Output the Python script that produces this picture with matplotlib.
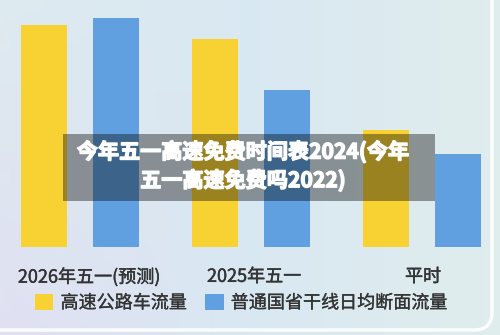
import numpy as np
import matplotlib.pyplot as plt
import matplotlib.patheffects as pe
from matplotlib.patches import Patch, Rectangle, FancyBboxPatch

plt.rcParams['font.family'] = ['Noto Sans CJK SC', 'DejaVu Sans']

categories = ['2026年五一(预测)', '2025年五一', '平时']
highway = [222, 208, 117]
national_road = [229, 157, 93]
series_names = ['高速公路车流量', '普通国省干线日均断面流量']
title = '今年五一高速免费时间表2024(今年\n五一高速免费吗2022)'

YELLOW = '#f8d233'
BLUE = '#61a0e0'

W, H = 500, 335
fig = plt.figure(figsize=(W / 100, H / 100), dpi=100)

# soft gradient background
bg = fig.add_axes([0, 0, 1, 1])
bg.set_xlim(0, W)
bg.set_ylim(0, H)
bg.axis('off')
c_tl = np.array([0.87, 0.92, 0.94])
c_tc = np.array([0.85, 0.91, 0.95])
c_bl = np.array([0.88, 0.88, 0.95])
c_r = np.array([0.88, 0.93, 0.93])
gx = np.linspace(0, 1, 100)[None, :, None]
gy = np.linspace(0, 1, 70)[:, None, None]
left = c_bl * (1 - gy) + c_tl * gy
mid = c_tc * np.ones_like(gy)
grad = np.where(gx < 0.5, left * (1 - gx * 2) + mid * gx * 2,
                mid * (2 - gx * 2) + c_r * (gx * 2 - 1))
bg.imshow(grad, extent=[0, W, 0, H], origin='lower', aspect='auto', zorder=0)
bg.add_patch(FancyBboxPatch((-30, 5), W + 22, H + 40, boxstyle='round,pad=0,rounding_size=18',
                            facecolor='none', edgecolor='white', linewidth=2.5, alpha=0.9, zorder=1))

# bars
unit = 171.0
ax = fig.add_axes([0, 1 - 247 / H, 1, 229 / H])
ax.patch.set_alpha(0)
x = np.arange(len(categories))
bw = 46 / unit
off = 36 / unit
ax.bar(x - off, highway, bw, color=YELLOW, zorder=2)
ax.bar(x + off, national_road, bw, color=BLUE, zorder=2)
ax.set_xlim(-80 / unit, (W - 80) / unit)
ax.set_ylim(0, 229)
for s in ax.spines.values():
    s.set_visible(False)
ax.set_yticks([])
ax.set_xticks(x + np.array([9, 3, 1]) / unit)
ax.set_xticklabels(categories, fontsize=13, color='#333333')
for t in ax.get_xticklabels():
    t.set_path_effects([pe.withStroke(linewidth=0.3, foreground='#333333')])
ax.tick_params(axis='x', length=0, pad=15)

# legend
handles = [Patch(facecolor=YELLOW), Patch(facecolor=BLUE)]
leg = fig.legend(handles, series_names, loc='center', bbox_to_anchor=(241 / W, 1 - 303 / H),
                 ncol=2, frameon=False, fontsize=13, handlelength=1.0, handleheight=1.0,
                 handletextpad=0.4, columnspacing=1.05, labelcolor='#333333')
for t in leg.get_texts():
    t.set_path_effects([pe.withStroke(linewidth=0.2, foreground='#333333')])

# title overlay
fig.patches.append(Rectangle((63 / W, 1 - 201 / H), 372 / W, 67 / H, transform=fig.transFigure,
                             facecolor='black', alpha=0.38, edgecolor='none', zorder=5))
fig.text(243 / W, 1 - 166 / H, title, ha='center', va='center', fontsize=15.2,
         fontweight='bold', color='white', linespacing=1.35, zorder=6,
         path_effects=[pe.withStroke(linewidth=1.0, foreground='white')])

fig.savefig('out.png', dpi=100)
